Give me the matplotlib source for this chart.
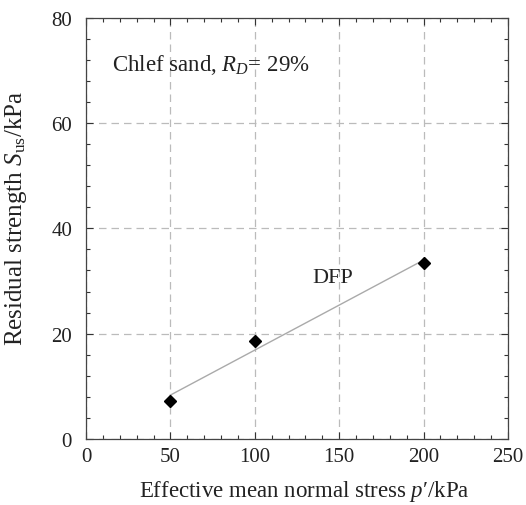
import numpy as np
import matplotlib
matplotlib.use("Agg")
import matplotlib.pyplot as plt
from matplotlib.ticker import MultipleLocator

plt.rcParams['font.family'] = ['Liberation Serif', 'DejaVu Serif']
plt.rcParams['mathtext.fontset'] = 'custom'
plt.rcParams['mathtext.rm'] = 'Liberation Serif'
plt.rcParams['mathtext.it'] = 'Liberation Serif:italic'

p_stress = [50, 100, 200]
residual_strength = [7.1, 18.6, 33.4]
x_ticks = [0, 50, 100, 150, 200, 250]
y_ticks = [0, 20, 40, 60, 80]

fig = plt.figure(figsize=(5.26, 5.06), dpi=100)
ax = fig.add_axes([0.1635, 0.1314, 0.8023, 0.8301])

slope, intercept = np.polyfit(p_stress, residual_strength, 1)
xf = np.array([min(p_stress), max(p_stress)])
ax.plot(xf, slope * xf + intercept, color='#aaaaaa', lw=1.0, zorder=2)
ax.plot(p_stress, residual_strength, linestyle='none', marker='D', color='black',
        markersize=6.5, zorder=3)

ax.set_xlim(0, 250)
ax.set_ylim(0, 80)
ax.set_xticks(x_ticks)
ax.set_yticks(y_ticks)
ax.xaxis.set_minor_locator(MultipleLocator(10))
ax.yaxis.set_minor_locator(MultipleLocator(4))
ax.tick_params(which='both', direction='in', top=True, right=True, colors='#333333',
               labelcolor='#222222', labelsize=15)
ax.tick_params(which='major', length=5, width=0.8)
ax.tick_params(which='minor', length=3, width=0.8)
ax.tick_params(axis='x', which='major', pad=6)
ax.tick_params(axis='y', which='major', pad=10)
ax.grid(True, which='major', linestyle=(0, (6, 4)), color='#bbbbbb', lw=0.9)
for s in ax.spines.values():
    s.set_color('#444444')
    s.set_linewidth(0.9)

ax.set_xlabel("Effective mean normal stress $p$\u2032/kPa", fontsize=16.5, color='#222222')
ax.set_ylabel("Residual strength $S_{\\mathrm{us}}$/kPa", fontsize=18, color='#222222')
ax.xaxis.set_label_coords(0.517, -0.093)
ax.yaxis.set_label_coords(-0.135, 0.527)

ax.text(15.5, 71.3, "Chlef sand, $R_D$= 29%", fontsize=16.5, va='center', ha='left',
        color='#222222')
ax.text(146, 30.7, "DFP", fontsize=16, va='center', ha='center', color='#222222')

fig.savefig("out.png", dpi=100)
